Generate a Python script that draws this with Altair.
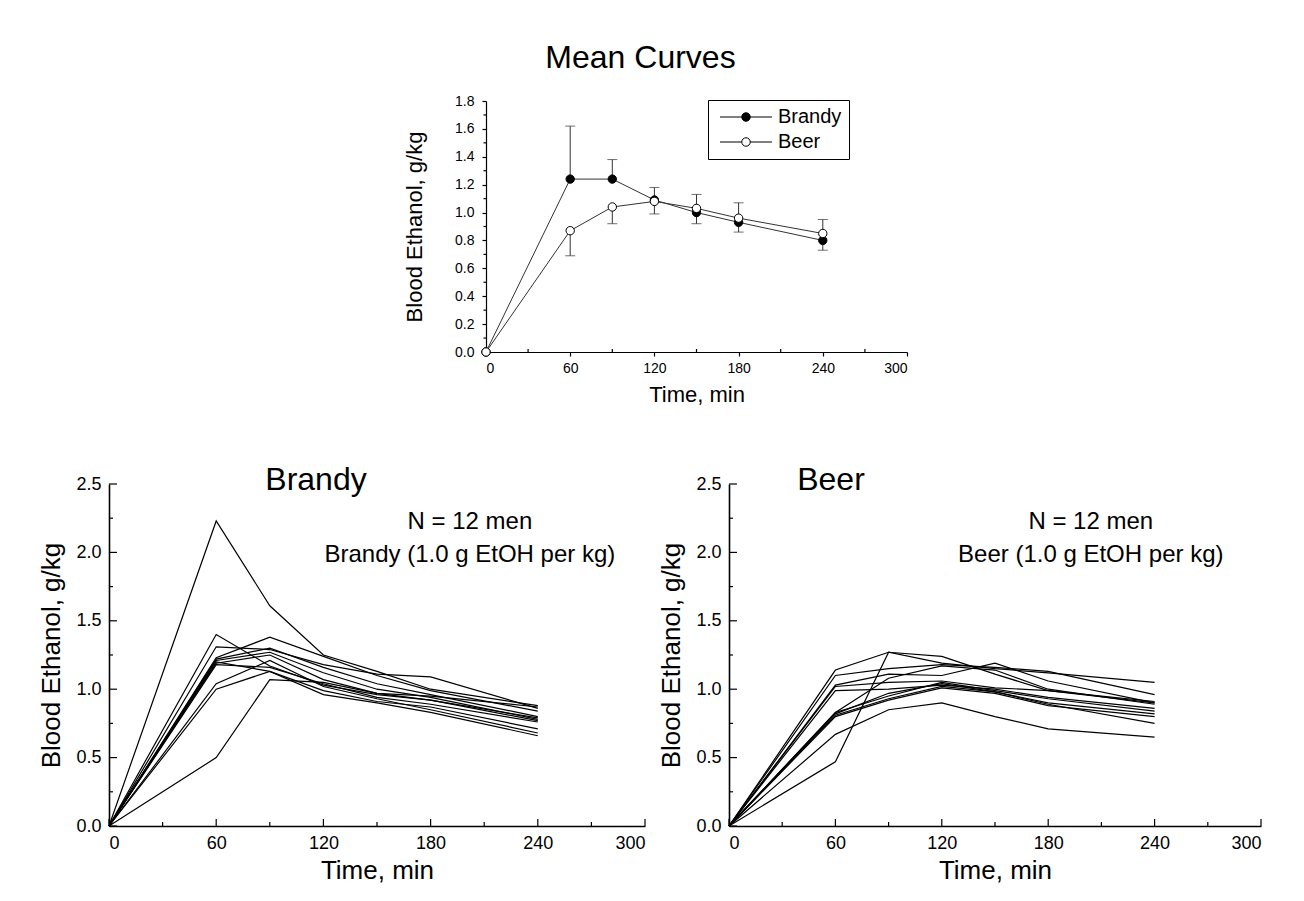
import altair as alt
import pandas as pd

FONT = "Liberation Sans"

# ---------------- data ----------------
times = [0, 60, 90, 120, 150, 180, 240]

mean_brandy = [0.0, 1.24, 1.24, 1.09, 1.00, 0.93, 0.80]
mean_beer = [0.0, 0.87, 1.04, 1.08, 1.03, 0.96, 0.85]
err_times = [60, 90, 120, 150, 180, 240]
brandy_err_end = [1.62, 1.38, 1.18, 0.92, 0.86, 0.73]
beer_err_end = [0.69, 0.92, 0.99, 1.13, 1.07, 0.95]

brandy_subjects = [
    [0, 2.23, 1.61, 1.25, 1.13, 1.00, 0.88],
    [0, 1.40, 1.17, 1.03, 0.96, 0.92, 0.79],
    [0, 1.31, 1.29, 1.18, 1.11, 1.09, 0.86],
    [0, 1.23, 1.38, 1.24, 1.10, 0.99, 0.84],
    [0, 1.22, 1.30, 1.16, 1.04, 0.96, 0.80],
    [0, 1.21, 1.27, 1.12, 1.00, 0.94, 0.78],
    [0, 1.19, 1.25, 1.07, 0.97, 0.92, 0.77],
    [0, 1.18, 1.16, 1.04, 0.94, 0.89, 0.76],
    [0, 1.20, 1.13, 0.99, 0.91, 0.87, 0.71],
    [0, 1.04, 1.21, 1.02, 0.93, 0.85, 0.68],
    [0, 1.00, 1.13, 0.96, 0.90, 0.83, 0.66],
    [0, 0.50, 1.07, 1.05, 0.97, 0.95, 0.87],
]
beer_subjects = [
    [0, 1.14, 1.27, 1.24, 1.11, 0.99, 0.90],
    [0, 0.47, 1.27, 1.19, 1.15, 1.12, 1.05],
    [0, 1.10, 1.15, 1.18, 1.16, 1.13, 0.96],
    [0, 1.03, 1.11, 1.10, 1.19, 1.06, 0.90],
    [0, 1.02, 1.05, 1.06, 1.01, 0.99, 0.91],
    [0, 0.99, 1.00, 1.03, 1.00, 0.94, 0.86],
    [0, 0.83, 1.08, 1.17, 1.14, 1.00, 0.89],
    [0, 0.83, 0.95, 1.05, 0.99, 0.93, 0.84],
    [0, 0.82, 0.97, 1.04, 0.98, 0.90, 0.82],
    [0, 0.80, 0.92, 1.01, 0.97, 0.88, 0.80],
    [0, 0.67, 0.85, 0.90, 0.80, 0.71, 0.65],
    [0, 0.81, 0.93, 1.02, 0.98, 0.89, 0.75],
]

x_major = [0, 60, 120, 180, 240, 300]
x_minor = [30, 90, 150, 210, 270]
top_y_major = [0.0, 0.2, 0.4, 0.6, 0.8, 1.0, 1.2, 1.4, 1.6, 1.8]
top_y_minor = [0.1, 0.3, 0.5, 0.7, 0.9, 1.1, 1.3, 1.5, 1.7]
bot_y_major = [0.0, 0.5, 1.0, 1.5, 2.0, 2.5]
bot_y_minor = [0.25, 0.75, 1.25, 1.75, 2.25]

drinks = ["Brandy", "Beer"]

XT = "Time, min"
YT = "Blood Ethanol, g/kg"

# ---------------- sizes ----------------
TW, TH = 421, 251
BW1, BW2, BH = 536, 532, 342

one = pd.DataFrame({"a": [0]})


def tick_layers(xsc, ysc, xax, yax, w, h, xmax, ymax, xspec, yspec):
    """xspec/yspec: list of (values, length_px); negative length = outward."""
    layers = []
    for vals, L in xspec:
        layers.append(
            alt.Chart(pd.DataFrame({"t": vals})).mark_rule(color="black", strokeWidth=1.2).encode(
                x=alt.X("t:Q", scale=xsc, title=XT, axis=xax),
                y=alt.YDatum(0, scale=ysc, title=YT, axis=yax),
                y2=alt.datum(L * ymax / h),
            )
        )
    for vals, L in yspec:
        layers.append(
            alt.Chart(pd.DataFrame({"v": vals})).mark_rule(color="black", strokeWidth=1.2).encode(
                y=alt.Y("v:Q", scale=ysc, title=YT, axis=yax),
                x=alt.XDatum(0, scale=xsc, title=XT, axis=xax),
                x2=alt.datum(L * xmax / w),
            )
        )
    return layers


# ---------------- top chart ----------------
mean_df = pd.DataFrame({
    "time": times * 2,
    "value": mean_brandy + mean_beer,
    "drink": ["Brandy"] * len(times) + ["Beer"] * len(times),
})
err_df = pd.DataFrame({
    "time": err_times * 2,
    "mean": mean_brandy[1:] + mean_beer[1:],
    "end": brandy_err_end + beer_err_end,
})

xs_t = alt.Scale(domain=[0, 300], nice=False, zero=False)
ys_t = alt.Scale(domain=[0, 1.8], nice=False, zero=False)

xax_t = alt.Axis(values=x_major, format="d", labelFontSize=14, titleFontSize=22,
                 tickSize=4, labelPadding=5, titlePadding=9, domainWidth=1.2,
                 tickWidth=1.2, labelOverlap=False)
yax_t = alt.Axis(values=top_y_major, format=".1f", labelFontSize=14, titleFontSize=22,
                 tickSize=4, labelPadding=8, titlePadding=28, domainWidth=1.2,
                 tickWidth=1.2, labelOverlap=False, tickCount=10)

top_lines = alt.Chart(mean_df).mark_line(color="#333333", strokeWidth=1).encode(
    x=alt.X("time:Q", scale=xs_t, title=XT, axis=xax_t),
    y=alt.Y("value:Q", scale=ys_t, title=YT, axis=yax_t),
    detail="drink:N",
)

err_rules = alt.Chart(err_df).mark_rule(color="#333333", strokeWidth=1).encode(
    x=alt.X("time:Q", scale=xs_t, title=XT, axis=xax_t),
    y=alt.Y("mean:Q", scale=ys_t, title=YT, axis=yax_t),
    y2="end:Q",
)
err_caps = alt.Chart(err_df).mark_tick(color="#333333", orient="horizontal", size=10, thickness=1).encode(
    x=alt.X("time:Q", scale=xs_t, title=XT, axis=xax_t),
    y=alt.Y("end:Q", scale=ys_t, title=YT, axis=yax_t),
)

LEG_PATH = "M-1,0L3.35,0M5.05,0L9.4,0M3.35,0A0.85,0.85,0,1,1,5.05,0A0.85,0.85,0,1,1,3.35,0Z"

top_points = alt.Chart(mean_df).mark_point(
    shape="circle", filled=True, size=70, stroke="black", strokeWidth=1, opacity=1
).encode(
    x=alt.X("time:Q", scale=xs_t, title=XT, axis=xax_t),
    y=alt.Y("value:Q", scale=ys_t, title=YT, axis=yax_t),
    fill=alt.Fill(
        "drink:N",
        scale=alt.Scale(domain=drinks, range=["black", "white"]),
        title=None,
        legend=alt.Legend(
            orient="none", legendX=222, legendY=-1,
            symbolType=LEG_PATH, symbolSize=100, symbolStrokeColor="black",
            symbolStrokeWidth=1, labelFontSize=20, labelFont=FONT, labelOffset=43,
            strokeColor="black", fillColor="white", padding=7, rowPadding=5,
        ),
    ),
)

top_ticks = tick_layers(
    xs_t, ys_t, xax_t, yax_t, TW, TH, 300, 1.8,
    xspec=[(x_minor, 3)],
    yspec=[(top_y_minor, -2.5)],
)

top = alt.layer(top_lines, err_rules, err_caps, *top_ticks, top_points).properties(
    width=TW, height=TH,
    title=alt.TitleParams("Mean Curves", fontSize=32, font=FONT, fontWeight="normal",
                          anchor="middle", dx=-56, offset=19, color="black"),
)


# ---------------- bottom panels ----------------
def bottom_panel(subjects, title, title_dx, line2, w, tx):
    rows = []
    for i, s in enumerate(subjects):
        for t, v in zip(times, s):
            rows.append({"subject": i, "time": t, "value": v})
    df = pd.DataFrame(rows)
    xsc = alt.Scale(domain=[0, 300], nice=False, zero=False)
    ysc = alt.Scale(domain=[0, 2.5], nice=False, zero=False)
    xax = alt.Axis(values=x_major, format="d", ticks=False, labelFontSize=18,
                   titleFontSize=26, labelPadding=8, titlePadding=5, domainWidth=1.6,
                   labelOverlap=False)
    yax = alt.Axis(values=bot_y_major, format=".1f", ticks=False, labelFontSize=18,
                   titleFontSize=26, labelPadding=8, titlePadding=11, domainWidth=1.6,
                   labelOverlap=False)
    lines = alt.Chart(df).mark_line(color="black", strokeWidth=1.2).encode(
        x=alt.X("time:Q", scale=xsc, title=XT, axis=xax),
        y=alt.Y("value:Q", scale=ysc, title=YT, axis=yax),
        detail="subject:N",
    )
    ticks = tick_layers(
        xsc, ysc, xax, yax, w, BH, 300, 2.5,
        xspec=[(x_major, 7), (x_minor, 4)],
        yspec=[(bot_y_major, 8), (bot_y_minor, 4)],
    )
    t1 = alt.Chart(one).mark_text(text="N = 12 men", fontSize=24, font=FONT, align="center",
                                  baseline="alphabetic", color="black").encode(
        x=alt.XDatum(tx, scale=xsc, title=XT, axis=xax),
        y=alt.YDatum(2.17, scale=ysc, title=YT, axis=yax))
    t2 = alt.Chart(one).mark_text(text=line2, fontSize=24, font=FONT, align="center",
                                  baseline="alphabetic", color="black").encode(
        x=alt.XDatum(tx, scale=xsc, title=XT, axis=xax),
        y=alt.YDatum(1.93, scale=ysc, title=YT, axis=yax))
    return alt.layer(lines, *ticks, t1, t2).properties(
        width=w, height=BH,
        title=alt.TitleParams(title, fontSize=32, font=FONT, fontWeight="normal",
                              anchor="middle", dx=title_dx, offset=-22, color="black"),
    )


brandy = bottom_panel(brandy_subjects, "Brandy", -61, "Brandy (1.0 g EtOH per kg)", BW1, 202)
beer = bottom_panel(beer_subjects, "Beer", -164, "Beer (1.0 g EtOH per kg)", BW2, 204)

spacer = alt.Chart(one).mark_point(opacity=0).encode(
    x=alt.value(0), y=alt.value(0)
).properties(width=377, height=10)

top_row = alt.hconcat(spacer, top, spacing=0, bounds="flush").resolve_scale(fill="independent")
bottom_row = alt.hconcat(brandy, beer, spacing=84, bounds="flush")

chart = alt.vconcat(top_row, bottom_row, spacing=59).resolve_scale(fill="independent").properties(
    padding={"left": 38, "top": 42, "right": 10, "bottom": 10},
    background="white",
).configure(font=FONT).configure_view(strokeWidth=0).configure_axis(
    grid=False, domainColor="black", tickColor="black", labelColor="black",
    titleColor="black", labelFont=FONT, titleFont=FONT, titleFontWeight="normal",
    labelOverlap=False,
)

chart.save("out.html", embed_options={"renderer": "svg", "actions": False})
